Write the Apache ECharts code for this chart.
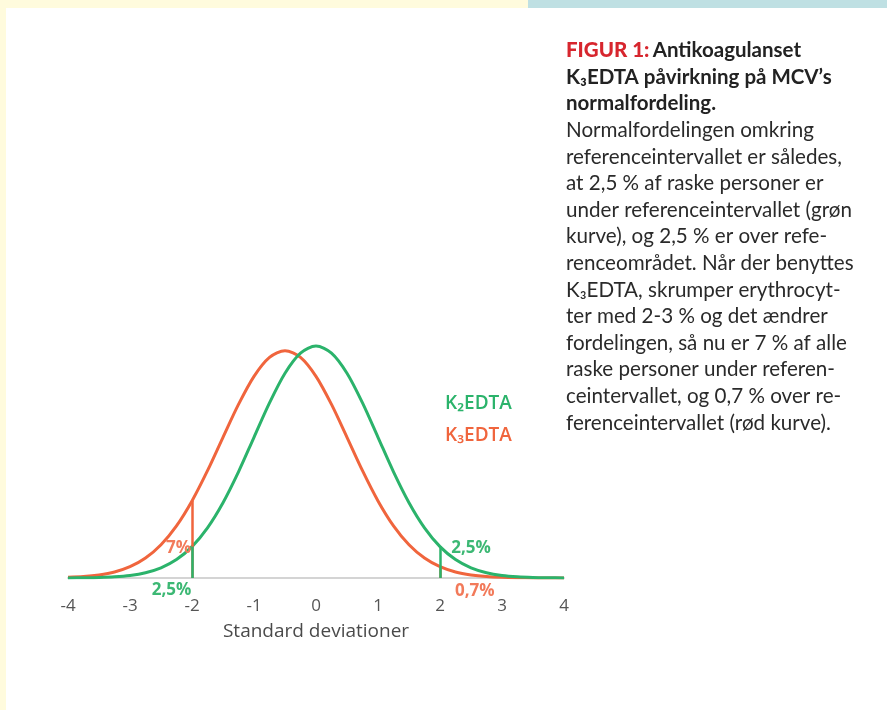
<!DOCTYPE html>
<html>
<head>
<meta charset="utf-8">
<script src="https://cdn.jsdelivr.net/npm/echarts@6/dist/echarts.min.js"></script>
<style>
  html, body { margin: 0; padding: 0; background: #ffffff; }
  #main { width: 887px; height: 710px; }
</style>
</head>
<body>
<div id="main"></div>
<script>
// standard deviations along the x axis
var sdSteps = [-4, -3.75, -3.5, -3.25, -3, -2.75, -2.5, -2.25, -2, -1.75, -1.5, -1.25, -1, -0.75, -0.5, -0.25,
  0, 0.25, 0.5, 0.75, 1, 1.25, 1.5, 1.75, 2, 2.25, 2.5, 2.75, 3, 3.25, 3.5, 3.75, 4];
// curve heights (green K2EDTA, red K3EDTA)
var k2Values = [0.0001, 0.0004, 0.0009, 0.002, 0.0044, 0.0091, 0.0175, 0.0317, 0.054, 0.0863, 0.1295, 0.1826,
  0.242, 0.3011, 0.3521, 0.3867, 0.3989, 0.3867, 0.3521, 0.3011, 0.242, 0.1826, 0.1295, 0.0863, 0.054, 0.0317,
  0.0175, 0.0091, 0.0044, 0.002, 0.0009, 0.0004, 0.0001];
var k3Values = [0.0011, 0.0024, 0.0052, 0.0103, 0.0194, 0.0343, 0.0572, 0.0897, 0.1326, 0.1846, 0.242, 0.2985,
  0.3468, 0.3794, 0.391, 0.3794, 0.3468, 0.2985, 0.242, 0.1846, 0.1326, 0.0897, 0.0572, 0.0343, 0.0194, 0.0103,
  0.0052, 0.0024, 0.0011, 0.0005, 0.0002, 0.0001, 0.0];
var cutoffs = [-2, 2];
var k2Labels = ['2,5%', '2,5%'];
var k3Labels = ['7%', '0,7%'];
var axisTitle = 'Standard deviationer';
var legendNames = ['K₂EDTA', 'K₃EDTA'];
var captionTitle = [
  '{r|FIGUR 1:} {b|Antikoagulanset}',
  '{b|K₃EDTA påvirkning på MCV’s}',
  '{b|normalfordeling.}'
];
var captionBody = [
  'Normalfordelingen omkring',
  'referenceintervallet er således,',
  'at 2,5 % af raske personer er',
  'under referenceintervallet (grøn',
  'kurve), og 2,5 % er over refe-',
  'renceområdet. Når der benyttes',
  'K₃EDTA, skrumper erythrocyt-',
  'ter med 2-3 % og det ændrer',
  'fordelingen, så nu er 7 % af alle',
  'raske personer under referen-',
  'ceintervallet, og 0,7 % over re-',
  'ferenceintervallet (rød kurve).'
];

var GREEN = '#2bb36b';
var RED = '#f0653d';

function pairs(vals) {
  return sdSteps.map(function (x, i) { return [x, vals[i]]; });
}
function valueAt(vals, x) {
  return vals[sdSteps.indexOf(x)];
}

var captionFont = 'Lato, "Noto Sans", sans-serif';
var graphics = [
  { type: 'rect', left: 0, top: 0, shape: { width: 528, height: 8 }, style: { fill: '#fffbdd' }, silent: true },
  { type: 'rect', left: 528, top: 0, shape: { width: 359, height: 8 }, style: { fill: '#bfe0e3' }, silent: true },
  { type: 'rect', left: 0, top: 0, shape: { width: 6, height: 710 }, style: { fill: '#fffbdd' }, silent: true },
  {
    type: 'text', left: 445, top: 394,
    style: { text: legendNames[0], fill: GREEN, font: '600 19px "Open Sans", sans-serif' }
  },
  {
    type: 'text', left: 445, top: 426,
    style: { text: legendNames[1], fill: RED, font: '600 19px "Open Sans", sans-serif' }
  }
];
captionTitle.concat(captionBody).forEach(function (line, i) {
  var isTitle = i < captionTitle.length;
  graphics.push({
    type: 'text', left: 566, top: 52 + i * 26.6 - 12,
    style: isTitle ? {
      text: line,
      rich: {
        r: { fill: '#d7262e', font: '900 20.5px ' + captionFont },
        b: { fill: '#222222', font: '700 20.5px ' + captionFont }
      }
    } : {
      text: line, fill: '#2a2a2a', font: '400 20.6px ' + captionFont
    }
  });
});

var labelFont = { fontSize: 17, fontWeight: 'bold', fontFamily: '"Open Sans", sans-serif' };

var myChart = echarts.init(document.getElementById('main'));
var option = {
  backgroundColor: '#ffffff',
  animation: false,
  grid: { left: 68, width: 496, top: 345.4, height: 232.6 },
  xAxis: {
    type: 'value', min: -4, max: 4, interval: 1,
    axisLine: { show: true, lineStyle: { color: '#d4d4d4', width: 2 } },
    axisTick: { show: false },
    splitLine: { show: false },
    axisLabel: { color: '#555555', fontSize: 17, margin: 20, fontFamily: '"Open Sans", sans-serif' },
    name: axisTitle,
    nameLocation: 'middle',
    nameGap: 44,
    nameTextStyle: { color: '#4a4a4a', fontSize: 19, fontFamily: '"Open Sans", sans-serif' }
  },
  yAxis: { type: 'value', min: 0, max: 0.4, show: false },
  graphic: graphics,
  series: [
    {
      name: legendNames[1], type: 'line', smooth: 0.3, showSymbol: false,
      data: pairs(k3Values),
      lineStyle: { color: RED, width: 3 }, itemStyle: { color: RED },
      markLine: {
        silent: true, symbol: 'none', label: { show: false },
        lineStyle: { color: RED, width: 2.5, type: 'solid' },
        data: cutoffs.map(function (c) { return [{ coord: [c, 0] }, { coord: [c, valueAt(k3Values, c)] }]; })
      },
      markPoint: {
        silent: true, symbol: 'circle', symbolSize: 0,
        data: [
          { coord: [cutoffs[0], 0.052], value: k3Labels[0],
            label: Object.assign({ show: true, position: 'left', distance: 1, color: '#f27a5a', formatter: '{c}' }, labelFont) },
          { coord: [2.56, 0], value: k3Labels[1],
            label: Object.assign({ show: true, position: 'inside', offset: [0, 13], color: '#f27a5a', formatter: '{c}' }, labelFont) }
        ]
      }
    },
    {
      name: legendNames[0], type: 'line', smooth: 0.3, showSymbol: false,
      data: pairs(k2Values),
      lineStyle: { color: GREEN, width: 3 }, itemStyle: { color: GREEN },
      markLine: {
        silent: true, symbol: 'none', label: { show: false },
        lineStyle: { color: GREEN, width: 2.5, type: 'solid' },
        data: cutoffs.map(function (c) { return [{ coord: [c, 0] }, { coord: [c, valueAt(k2Values, c)] }]; })
      },
      markPoint: {
        silent: true, symbol: 'circle', symbolSize: 0,
        data: [
          { coord: [-2.33, 0], value: k2Labels[0],
            label: Object.assign({ show: true, position: 'inside', offset: [0, 12], color: '#3cb874', formatter: '{c}' }, labelFont) },
          { coord: [2.5, 0.052], value: k2Labels[1],
            label: Object.assign({ show: true, position: 'inside', color: '#3cb874', formatter: '{c}' }, labelFont) }
        ]
      }
    }
  ]
};
myChart.setOption(option);
</script>
</body>
</html>
